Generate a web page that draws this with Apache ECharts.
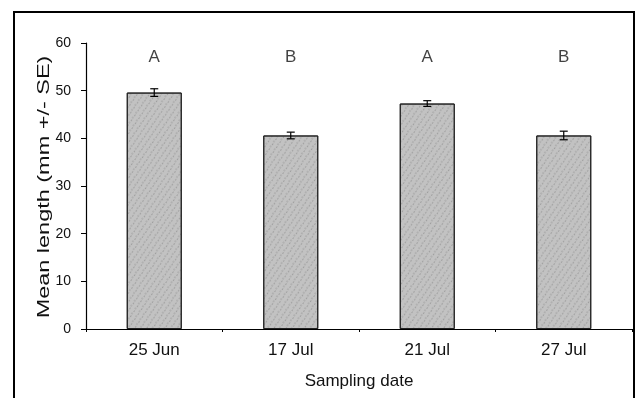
<!DOCTYPE html>
<html>
<head>
<meta charset="utf-8">
<script src="https://cdn.jsdelivr.net/npm/echarts@6/dist/echarts.min.js"></script>
<style>
  html, body { margin: 0; padding: 0; background: #fff; }
  #chart { width: 636px; height: 398px; }
</style>
</head>
<body>
<div id="chart"></div>
<script>
// sampling dates and mean lengths
const dates = ['25 Jun', '17 Jul', '21 Jul', '27 Jul']
const means = [49.6, 40.6, 47.3, 40.6]
const errors = [0.8, 0.7, 0.6, 0.9]
const groups = ['A', 'B', 'A', 'B']
const groupLevel = [57, 57, 57, 57]
const yTicks = [0, 10, 20, 30, 40, 50, 60]

const font = 'Liberation Sans, Arial, sans-serif'

const chart = echarts.init(document.getElementById('chart'))

// error bar: vertical line with caps
const errorBar = function (params, api) {
  const i = params.dataIndex
  const x = api.coord([i, 0])[0]
  const lo = api.coord([i, means[i] - errors[i]])[1]
  const hi = api.coord([i, means[i] + errors[i]])[1]
  const cap = 4
  const style = {stroke: '#000', lineWidth: 1.2}
  return {
    type: 'group',
    children: [
      {type: 'line', shape: {x1: x, y1: lo, x2: x, y2: hi}, style: style},
      {type: 'line', shape: {x1: x - cap, y1: hi, x2: x + cap, y2: hi}, style: style},
      {type: 'line', shape: {x1: x - cap, y1: lo, x2: x + cap, y2: lo}, style: style}
    ]
  }
}

chart.setOption({
  animation: false,
  backgroundColor: '#fff',
  graphic: [
    {
      type: 'rect',
      shape: {x: 14, y: 12, width: 620, height: 400},
      style: {fill: 'none', stroke: '#000', lineWidth: 2}
    },
    // y axis title, stretched like the scanned figure
    {
      type: 'text',
      x: 44,
      y: 187,
      rotation: Math.PI / 2,
      scaleX: 1.38,
      style: {
        text: 'Mean length (mm +/- SE)',
        font: '17px Liberation Sans, Arial, sans-serif',
        fill: '#111',
        align: 'center',
        verticalAlign: 'middle'
      }
    }
  ],
  grid: {left: 86, top: 43, right: 4, bottom: 69},
  xAxis: {
    type: 'category',
    data: dates,
    name: 'Sampling date',
    nameLocation: 'middle',
    nameGap: 44,
    nameTextStyle: {color: '#111', fontSize: 17, fontFamily: font},
    axisLine: {lineStyle: {color: '#000', width: 1.2}},
    axisTick: {show: true, inside: false, length: 3, alignWithLabel: false, lineStyle: {color: '#000'}},
    axisLabel: {color: '#111', fontSize: 17, fontFamily: font, margin: 13}
  },
  yAxis: {
    type: 'value',
    min: 0,
    max: 60,
    interval: 10,
    splitLine: {show: false},
    axisLine: {show: true, lineStyle: {color: '#000', width: 1.2}},
    axisTick: {show: true, length: 5, lineStyle: {color: '#000'}},
    axisLabel: {
      color: '#111', fontSize: 14, fontFamily: font, margin: 15,
      formatter: function (v) { return yTicks.indexOf(v) >= 0 ? String(v) : '' }
    }
  },
  series: [
    {
      type: 'bar',
      data: means,
      barWidth: 55,
      itemStyle: {
        color: '#c2c2c2',
        borderColor: '#222',
        borderWidth: 1,
        decal: {
          symbol: 'circle',
          symbolSize: 0.6,
          color: 'rgba(40,40,40,0.45)',
          dashArrayX: [[2, 3], [3, 2]],
          dashArrayY: [2, 1],
          rotation: 0.6
        }
      }
    },
    {
      type: 'custom',
      renderItem: errorBar,
      data: means,
      z: 5
    },
    {
      type: 'scatter',
      data: groupLevel,
      symbolSize: 0,
      label: {
        show: true,
        position: 'inside',
        color: '#111',
        fontSize: 17,
        fontFamily: font,
        formatter: function (p) { return groups[p.dataIndex] }
      }
    }
  ]
})
</script>
</body>
</html>
